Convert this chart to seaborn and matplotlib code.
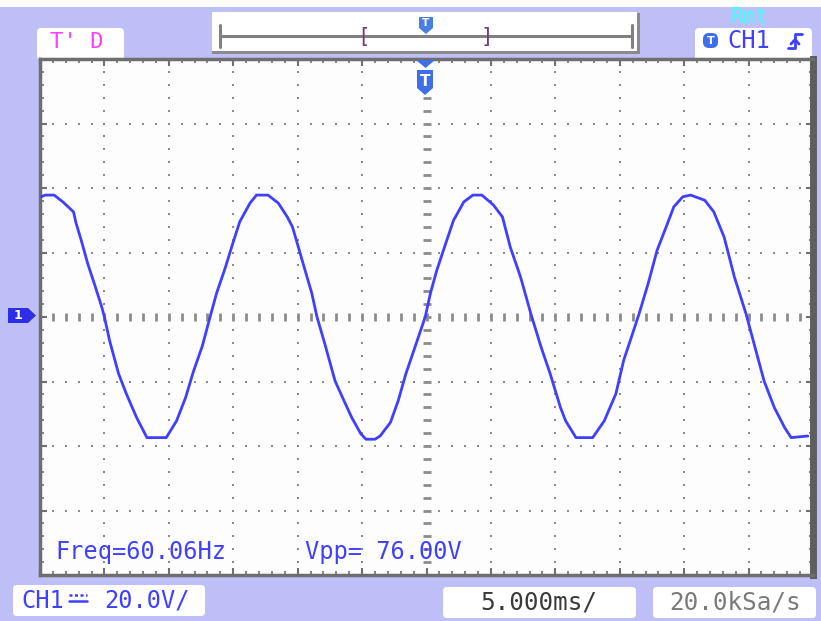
import numpy as np
import pandas as pd
import matplotlib
matplotlib.use("Agg")
import matplotlib.pyplot as plt
from matplotlib.patches import FancyBboxPatch, Rectangle, Polygon
from matplotlib.ticker import MultipleLocator
import seaborn as sns

time_ms = [-29.9, -29.6, -28.9, -28.2, -27.4, -27.2, -26.8, -26.3, -25.7, -25.2,
           -25.0, -24.6, -23.9, -23.3, -22.5, -21.7, -20.2, -19.4, -18.7, -18.1,
           -17.4, -16.8, -16.3, -15.6, -15.1, -14.5, -13.7, -13.2, -12.3, -11.5,
           -10.8, -10.4, -10.1, -9.5, -8.9, -8.5, -7.9, -7.1, -6.4, -5.8,
           -5.1, -4.7, -4.0, -3.6, -2.8, -2.2, -1.6, -0.9, -0.1, 0.3,
           0.8, 1.5, 2.1, 2.9, 3.6, 4.3, 5.2, 5.9, 6.5, 7.3,
           8.1, 8.9, 9.6, 10.4, 10.8, 11.6, 12.9, 13.8, 14.7, 15.3,
           16.0, 16.5, 17.2, 17.9, 18.6, 19.2, 19.9, 20.5, 21.6, 22.3,
           23.1, 23.9, 24.8, 25.5, 26.2, 27.0, 27.8, 28.3, 29.6]
volts = [37.3, 37.8, 37.8, 35.6, 32.6, 29.1, 23.8, 16.6, 9.3, 3.0,
         0.0, -7.3, -17.6, -23.8, -31.2, -37.4, -37.4, -32.2, -25.0, -17.0,
         -9.0, 0.0, 7.3, 15.5, 22.0, 29.5, 35.3, 37.8, 37.8, 35.3,
         31.0, 27.9, 23.8, 15.5, 7.3, 0.0, -8.2, -19.8, -26.0, -31.2,
         -36.2, -37.9, -37.9, -36.9, -32.7, -26.0, -17.6, -9.4, 0.0, 7.3,
         14.5, 22.9, 30.0, 35.7, 37.8, 37.8, 34.7, 31.0, 21.7, 12.4,
         1.0, -9.4, -17.6, -28.1, -32.2, -37.4, -37.4, -32.2, -23.8, -13.5,
         -5.1, 1.0, 10.3, 20.7, 27.9, 34.2, 37.3, 37.8, 36.2, 32.6,
         24.8, 12.4, 1.0, -9.4, -19.8, -28.1, -34.3, -37.4, -36.9]

trigger_label = "T' D"
remote_label = "Rmt"
channel_label = "CH1"
freq_label = "Freq=60.06Hz"
vpp_label = "Vpp= 76.00V"
vscale_channel = "CH1"
vscale_value = "20.0V/"
tscale_label = "5.000ms/"
rate_label = "20.0kSa/s"

ms_per_div = 5.0
volts_per_div = 20.0
n_hdiv, n_vdiv = 12, 8

df = pd.DataFrame({"t": time_ms, "v": volts})

# ---------------- figure ----------------
sns.set_style("white")
W, H = 821, 621
fig = plt.figure(figsize=(W / 100, H / 100), dpi=100)
lav = "#BFBFF8"
fig.patch.set_facecolor(lav)
mono = "DejaVu Sans Mono"
blue = "#3F3FFF"

# background pixel-space axes
bg = fig.add_axes([0, 0, 1, 1], zorder=0)
bg.set_xlim(0, W); bg.set_ylim(H, 0); bg.axis("off")
bg.add_patch(Rectangle((0, 0), W, 7, color="white", lw=0))

def rbox(ax, x0, y0, x1, y1, fc="white", r=4):
    ax.add_patch(FancyBboxPatch((x0, y0), x1 - x0, y1 - y0,
                                boxstyle=f"round,pad=0,rounding_size={r}",
                                fc=fc, ec="none", lw=0))

# top-left T'D box, top-right CH1 box
rbox(bg, 37, 28, 124, 60)
rbox(bg, 695, 28, 812, 60)
# timeline box with shadow
bg.add_patch(Rectangle((212, 13), 428, 41, color="#8a8a8a", lw=0))
bg.add_patch(Rectangle((212, 12), 425, 39, color="white", lw=0))
bg.plot([220, 632], [36, 36], color="#808080", lw=2.2, solid_capstyle="butt")
bg.plot([220, 220], [25, 47], color="#808080", lw=2.2)
bg.plot([632, 632], [25, 47], color="#808080", lw=2.2)
bg.text(364, 37, "[", color="#7A3A7A", fontsize=15, family=mono,
        ha="center", va="center")
bg.text(487, 37, "]", color="#7A3A7A", fontsize=15, family=mono,
        ha="center", va="center")
bg.add_patch(Polygon([(419, 17), (433, 17), (433, 28), (426, 34), (419, 28)],
                     closed=True, fc="#4A7FE0", ec="none"))
bg.text(426, 23, "T", color="white", fontsize=7.5, fontweight="bold",
        ha="center", va="center")

# bottom boxes
rbox(bg, 13, 585, 205, 616)
rbox(bg, 443, 587, 636, 618)
rbox(bg, 653, 587, 816, 618)

# texts
bg.text(50, 42, trigger_label, color="#FF40FF", fontsize=16, family=mono,
        ha="left", va="center")
bg.text(749, 17, remote_label, color="#40FFFF", fontsize=15, family=mono,
        ha="center", va="center")
bg.text(727, 41, channel_label, color=blue, fontsize=17, family=mono,
        ha="left", va="center")
bg.add_patch(FancyBboxPatch((703, 33), 15, 15, boxstyle="round,pad=0,rounding_size=6",
                            fc="#3F6FE8", ec="none"))
bg.text(710.5, 40.5, "T", color="white", fontsize=8, fontweight="bold",
        ha="center", va="center")
bg.plot([788, 795, 795, 802], [48, 48, 34, 34], color=blue, lw=2)
bg.plot([791, 795, 799], [44, 39.5, 44], color=blue, lw=2)

# CH1 coupling box: the DC-coupling sign (no installed font has it) drawn as a shape
bg.text(21, 601, vscale_channel, color=blue, fontsize=17, family=mono,
        ha="left", va="center")
bg.plot([69, 87], [595, 595], color=blue, lw=1.8, ls=(0, (1.2, 1.0)))
bg.plot([69, 87], [600.5, 600.5], color=blue, lw=1.8)
bg.text(104, 601, vscale_value, color=blue, fontsize=17, family=mono,
        ha="left", va="center")
bg.text(539, 603, tscale_label, color="#3a3a3a", fontsize=17.5, family=mono,
        ha="center", va="center")
bg.text(735, 603, rate_label, color="#7a7a7a", fontsize=17.5, family=mono,
        ha="center", va="center")

# ---------------- main scope axes ----------------
L, R, T, B = 40, 813, 59, 575
ax = fig.add_axes([L / W, 1 - B / H, (R - L) / W, (B - T) / H], zorder=1)
ax.set_facecolor("#FDFDFD")
xmax = n_hdiv * ms_per_div / 2
ymax = n_vdiv * volts_per_div / 2
ax.set_xlim(-xmax, xmax)
ax.set_ylim(-ymax, ymax)

# dotted graticule
sub_t = np.arange(-xmax + ms_per_div / 5, xmax, ms_per_div / 5)
sub_v = np.arange(-ymax + volts_per_div / 5, ymax, volts_per_div / 5)
gcol = "#8c8c8c"
for xv in np.arange(-xmax + ms_per_div, xmax, ms_per_div):
    if abs(xv) < 1e-9:
        ax.plot(np.zeros_like(sub_v), sub_v, ls="none", marker="_", ms=6,
                mew=2, color=gcol, zorder=2)
    else:
        ax.plot(np.full_like(sub_v, xv), sub_v, ls="none", marker="s", ms=1.6,
                mew=0, color=gcol, zorder=2)
for yv in np.arange(-ymax + volts_per_div, ymax, volts_per_div):
    if abs(yv) < 1e-9:
        ax.plot(sub_t, np.zeros_like(sub_t), ls="none", marker="|", ms=6,
                mew=2, color=gcol, zorder=2)
    else:
        ax.plot(sub_t, np.full_like(sub_t, yv), ls="none", marker="s", ms=1.6,
                mew=0, color=gcol, zorder=2)

# waveform
sns.lineplot(data=df, x="t", y="v", ax=ax, color=blue, lw=2.0, sort=False,
             estimator=None, zorder=4)

# border ticks
ax.xaxis.set_major_locator(MultipleLocator(ms_per_div))
ax.xaxis.set_minor_locator(MultipleLocator(ms_per_div / 5))
ax.yaxis.set_major_locator(MultipleLocator(volts_per_div))
ax.yaxis.set_minor_locator(MultipleLocator(volts_per_div / 5))
ax.tick_params(which="both", direction="in", top=True, right=True, bottom=True,
               left=True, labelbottom=False, labelleft=False, color="#707070")
ax.tick_params(which="major", length=5, width=1.5)
ax.tick_params(which="minor", length=3, width=1.2)
ax.set_xlabel(""); ax.set_ylabel("")
for s in ["left", "top", "bottom"]:
    ax.spines[s].set_color("#6e6e6e"); ax.spines[s].set_linewidth(2.5)
ax.spines["right"].set_color("#5e5e5e"); ax.spines["right"].set_linewidth(5)

ax.text(0.02, 0.045, freq_label, transform=ax.transAxes, color=blue, fontsize=17,
        family=mono, ha="left", va="center", zorder=5)
ax.text(0.343, 0.045, vpp_label, transform=ax.transAxes, color=blue, fontsize=17,
        family=mono, ha="left", va="center", zorder=5)

# ---------------- foreground markers ----------------
fg = fig.add_axes([0, 0, 1, 1], zorder=3)
fg.set_xlim(0, W); fg.set_ylim(H, 0); fg.axis("off")
fg.patch.set_alpha(0)
fg.add_patch(Polygon([(416, 60), (435, 60), (425.5, 68)], closed=True,
                     fc="#3F6FE8", ec="none"))
fg.add_patch(Polygon([(417, 70), (433, 70), (433, 88), (425, 95), (417, 88)],
                     closed=True, fc="#3F6FE8", ec="none"))
fg.text(425, 81, "T", color="white", fontsize=11, fontweight="bold",
        ha="center", va="center")
fg.add_patch(Polygon([(8, 308), (28, 308), (36, 315.5), (28, 323), (8, 323)],
                     closed=True, fc="#2E2EE8", ec="none"))
fg.text(18, 315.5, "1", color="white", fontsize=9, fontweight="bold",
        ha="center", va="center")

fig.savefig("out.png", dpi=100, facecolor=fig.get_facecolor())
